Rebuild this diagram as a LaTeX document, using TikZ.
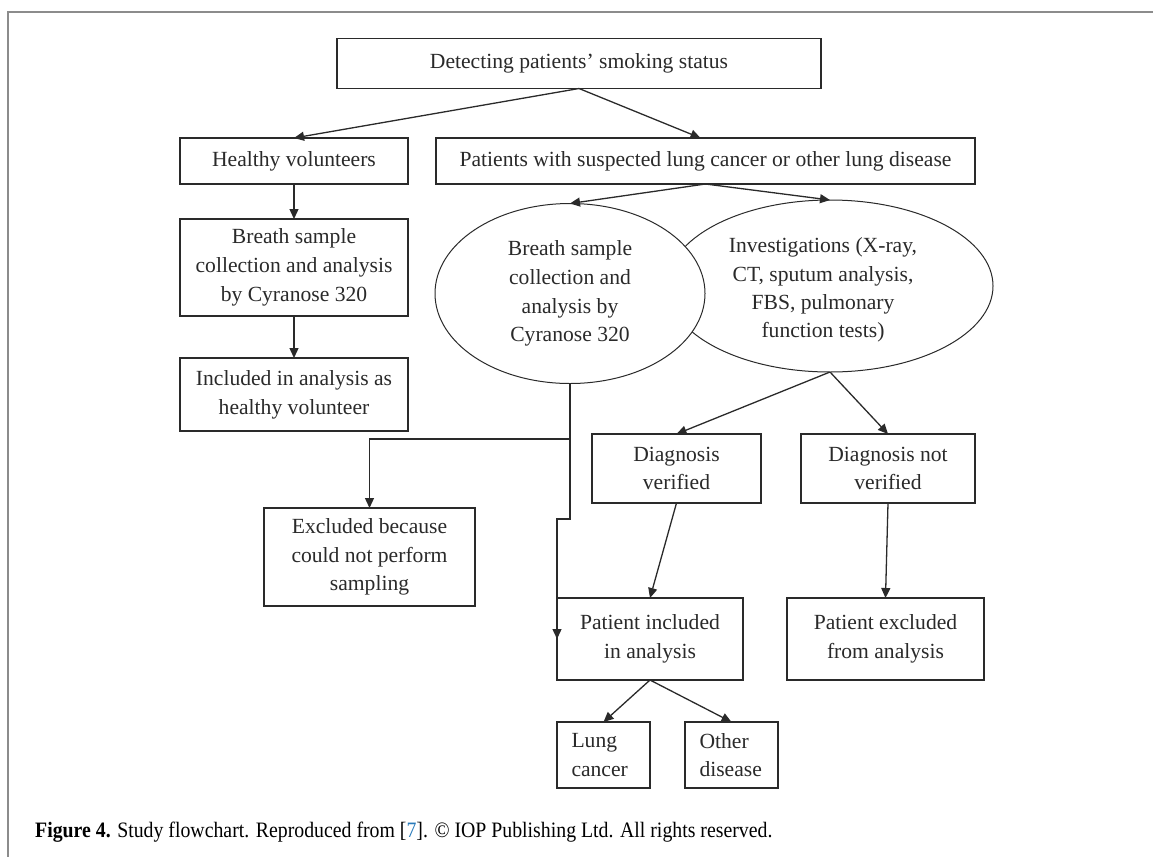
\documentclass[tikz,border=0pt]{standalone}
\usepackage{fontspec}
\setmainfont{Liberation Serif}
\newfontfamily\capfont[FakeStretch=0.9]{Liberation Serif}
\usetikzlibrary{arrows.meta,shapes.geometric}
\definecolor{ink}{HTML}{2A2A2A}
\definecolor{framegray}{HTML}{8C8C8C}
\definecolor{linkblue}{RGB}{40,122,186}
\tikzset{
  box/.style={draw=ink, line width=1.3pt, fill=white, inner sep=0pt, outer sep=0pt,
    align=center, text=ink, font=\fontsize{21.6}{28.8}\selectfont},
  oval/.style={draw=ink, line width=1pt, fill=white, ellipse, inner sep=0pt, outer sep=0pt,
    align=center, text=ink, font=\fontsize{21.6}{28.8}\selectfont},
  arr/.style={draw=ink, line width=1.3pt, -{Triangle[length=10pt,width=9pt]}},
  ln/.style={draw=ink, line width=1.3pt},
}
\begin{document}
\begin{tikzpicture}[x=1pt,y=-1pt]
\useasboundingbox (0,0) rectangle (1153,857);
\draw[framegray, line width=1.5pt] (1153,12) -- (8,12) -- (8,857);

\node[box, minimum width=484pt, minimum height=50pt] (top) at (579,63.5) {Detecting patients’ smoking status};
\node[box, minimum width=228pt, minimum height=46pt] (healthy) at (294,161) {Healthy volunteers};
\node[box, minimum width=539pt, minimum height=46pt] (patients) at (705.5,161) {Patients with suspected lung cancer or other lung disease};
\node[box, minimum width=228pt, minimum height=97pt] (breathbox) at (294,267.5) {Breath sample\\collection and analysis\\by Cyranose 320};
\node[box, minimum width=228pt, minimum height=73pt] (inclhv) at (294,394.5) {Included in analysis as\\healthy volunteer};

\node[oval, minimum width=326pt, minimum height=172pt] (ellR) at (830,286) {};
\node[text=ink, align=center, font=\fontsize{21.6}{28.2}\selectfont] (ellRtext) at (823,290) {Investigations (X-ray,\\CT, sputum analysis,\\FBS, pulmonary\\function tests)};
\node[oval, minimum width=270pt, minimum height=180pt] (ellL) at (570,293.5) {Breath sample\\collection and\\analysis by\\Cyranose 320};

\node[box, minimum width=211pt, minimum height=98pt] (excl) at (369.5,557) {Excluded because\\could not perform\\sampling};
\node[box, minimum width=169pt, minimum height=69pt] (dv) at (676.5,468.5) {Diagnosis\\verified};
\node[box, minimum width=174pt, minimum height=69pt] (dnv) at (888,468.5) {Diagnosis not\\verified};
\node[box, minimum width=186pt, minimum height=82pt] (pinc) at (650,639) {Patient included\\in analysis};
\node[box, minimum width=197pt, minimum height=82pt] (pexc) at (885.5,639) {Patient excluded\\from analysis};
\node[box, minimum width=93pt, minimum height=66pt, align=left, text width=64pt] (lung) at (603.5,755) {Lung\\cancer};
\node[box, minimum width=93pt, minimum height=66pt, align=left, text width=64pt] (other) at (731.5,755) {Other\\disease};

\coordinate (j1) at (570,519);
\coordinate (j2) at (557,519);
\coordinate (br) at (369.5,439);

\draw[arr] (top.south) -- (healthy.north);
\draw[arr] (top.south) -- ([xshift=-5pt]patients.north);
\draw[arr] (patients.south) -- (ellL.north);
\draw[arr] (patients.south) -- (ellR.north);
\draw[arr] (healthy.south) -- (breathbox.north);
\draw[arr] (breathbox.south) -- (inclhv.north);
\draw[arr] (ellL.south) -- (j1) -- (j2) -- (pinc.west);
\draw[arr] (ellL.south |- br) -- (br) -- (excl.north);
\draw[arr] (ellR.south) -- (dv.north);
\draw[arr] (ellR.south) -- (dnv.north);
\draw[arr] (dv.south) -- (pinc.north);
\draw[arr] (dnv.south) -- (pexc.north);
\draw[arr] (pinc.south) -- (lung.north);
\draw[arr] (pinc.south) -- (other.north);

\node[anchor=west, inner sep=0pt, text=black, font=\capfont\fontsize{22}{24}\selectfont] (caption) at (35,832)
  {\textbf{Figure 4.} Study flowchart. Reproduced from [\textcolor{linkblue}{7}]. © IOP Publishing Ltd. All rights reserved.};
\end{tikzpicture}
\end{document}
